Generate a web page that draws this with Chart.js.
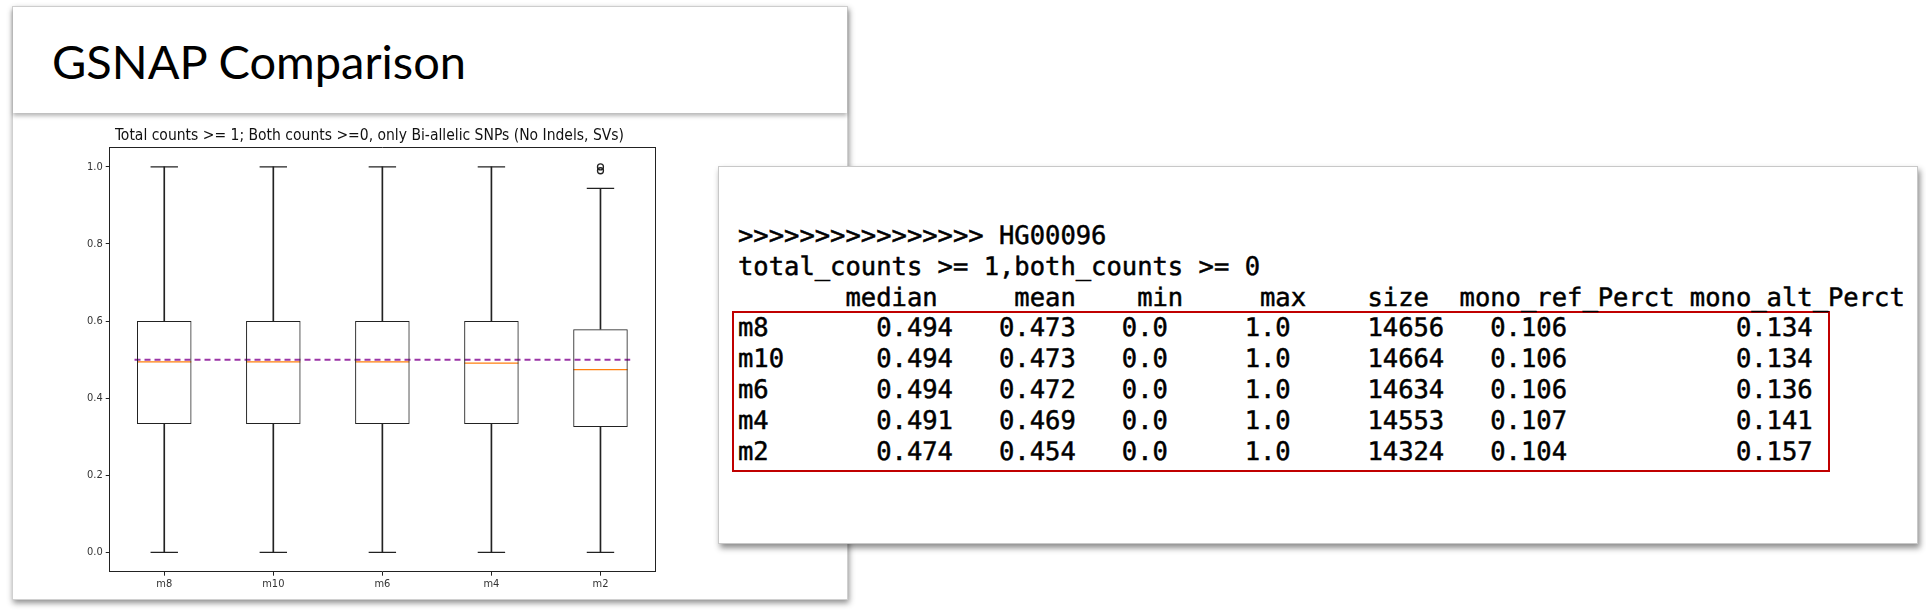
<!DOCTYPE html>
<html>
<head>
<meta charset="utf-8">
<script src="https://cdn.jsdelivr.net/npm/chart.js@4/dist/chart.umd.min.js"></script>
<style>
  body { margin: 0; width: 1926px; height: 612px; background: #fff; overflow: hidden; position: relative; }
  .slide { position: absolute; left: 12px; top: 6px; width: 834px; height: 592px; background: #fff;
           border: 1px solid #d0d0d0; box-shadow: 1px 3px 6px rgba(0,0,0,0.45); }
  .head { position: absolute; left: 0; top: 0; width: 834px; height: 106px; background: #fff;
          box-shadow: 0 3px 4px rgba(0,0,0,0.28); }
  .head h1 { position: absolute; left: 39px; top: 26px; margin: 0; font: 47px Lato, "Open Sans", sans-serif; color: #000; }
  #box { position: absolute; left: 60px; top: 118px; }
  .out { position: absolute; left: 718px; top: 166px; width: 1198px; height: 376px; background: #fff;
         border: 1px solid #c8c8c8; box-shadow: 2px 4px 6px rgba(0,0,0,0.45); }
  pre { position: absolute; left: 738px; top: 221px; margin: 0; font: 25.5px/30.8px "DejaVu Sans Mono", monospace;
        color: #000; -webkit-text-stroke: 0.5px #000; text-rendering: geometricPrecision; overflow: visible; }
  .frame { position: absolute; left: 732px; top: 311px; width: 1094px; height: 157px; border: 2px solid #c00000; }
</style>
</head>
<body>
<div class="slide">
  <div class="head"><h1>GSNAP Comparison</h1></div>
</div>
<canvas id="box" width="630" height="482"></canvas>
<div class="out"></div>
<div class="frame"></div>
<pre id="table"></pre>
<script>
// box plot values
const labels = ['m8', 'm10', 'm6', 'm4', 'm2'];
const whiskerLow = [0, 0, 0, 0, 0];
const q1 = [0.333, 0.333, 0.333, 0.333, 0.325];
const medians = [0.494, 0.494, 0.494, 0.491, 0.474];
const q3 = [0.6, 0.6, 0.6, 0.6, 0.579];
const whiskerHigh = [1.0, 1.0, 1.0, 1.0, 0.944];
const m2Fliers = [1.0, 0.99];
const refLine = 0.5;
const yTicks = [0.0, 0.2, 0.4, 0.6, 0.8, 1.0];

// printed summary table
const sampleName = 'HG00096';
const filterText = 'total_counts >= 1,both_counts >= 0';
const columns = ['median', 'mean', 'min', 'max', 'size', 'mono_ref_Perct', 'mono_alt_Perct'];
const medianCol = ['0.494', '0.494', '0.494', '0.491', '0.474'];
const meanCol = ['0.473', '0.473', '0.472', '0.469', '0.454'];
const minCol = ['0.0', '0.0', '0.0', '0.0', '0.0'];
const maxCol = ['1.0', '1.0', '1.0', '1.0', '1.0'];
const sizeCol = ['14656', '14664', '14634', '14553', '14324'];
const monoRefCol = ['0.106', '0.106', '0.106', '0.107', '0.104'];
const monoAltCol = ['0.134', '0.134', '0.136', '0.141', '0.157'];

function padTo(cells, ends, first) {
    let s = first || '';
    cells.forEach((c, i) => { s += c.padStart(ends[i] - s.length); });
    return s;
}
let lines = ['>'.repeat(16) + ' ' + sampleName, filterText];
lines.push(padTo(columns, [13, 22, 29, 37, 45, 61, 76]));
labels.forEach((name, i) => {
    let cells = [medianCol[i], meanCol[i], minCol[i], maxCol[i], sizeCol[i], monoRefCol[i], monoAltCol[i]];
    lines.push(padTo(cells, [14, 22, 28, 36, 46, 54, 70], name));
});
document.getElementById('table').textContent = lines.join('\n');

const ink = '#222';
const small = { family: "'DejaVu Sans Condensed', 'DejaVu Sans'", size: 11 };

new Chart(document.getElementById('box'), {
    type: 'bar',
    data: {
        labels: labels,
        datasets: [
            {
                data: labels.map((_, i) => [q1[i], q3[i]]),
                backgroundColor: 'rgba(0,0,0,0)', borderColor: ink, borderWidth: 1,
                borderSkipped: false, barPercentage: 0.5, categoryPercentage: 1, grouped: false
            },
            {
                data: labels.map((_, i) => [whiskerLow[i], q1[i]]),
                backgroundColor: ink, borderWidth: 0, barThickness: 1, grouped: false
            },
            {
                data: labels.map((_, i) => [q3[i], whiskerHigh[i]]),
                backgroundColor: ink, borderWidth: 0, barThickness: 1, grouped: false
            },
            {
                type: 'line', data: medians, showLine: false, pointStyle: 'line',
                pointRadius: 27, borderColor: '#ff7f0e', borderWidth: 1.3
            },
            {
                type: 'line', data: whiskerLow, showLine: false, pointStyle: 'line',
                pointRadius: 13.7, borderColor: ink, borderWidth: 1.2
            },
            {
                type: 'line', data: whiskerHigh, showLine: false, pointStyle: 'line',
                pointRadius: 13.7, borderColor: ink, borderWidth: 1.2
            },
            {
                type: 'line', data: m2Fliers.map(v => ({ x: 'm2', y: v })), showLine: false,
                pointStyle: 'circle', pointRadius: 3, borderColor: ink, borderWidth: 1.3,
                backgroundColor: 'rgba(0,0,0,0)'
            },
            {
                type: 'line', xAxisID: 'xr', data: [{ x: 0, y: refLine }, { x: 1, y: refLine }],
                borderColor: '#9b35a6', borderWidth: 2, borderDash: [6, 4], pointRadius: 0
            }
        ]
    },
    options: {
        responsive: false,
        animation: false,
        layout: { padding: { left: 24, right: 35, top: 0, bottom: 4.5 } },
        plugins: {
            legend: { display: false },
            tooltip: { enabled: false },
            title: {
                display: true,
                text: 'Total counts >= 1; Both counts >=0, only Bi-allelic SNPs (No Indels, SVs)',
                color: '#111',
                font: { family: "'DejaVu Sans Condensed', 'DejaVu Sans'", size: 15.5, weight: 'normal' },
                padding: { top: 9, bottom: 2 }
            }
        },
        scales: {
            x: {
                type: 'category', offset: true,
                grid: { display: true, drawOnChartArea: false, offset: false, tickLength: 4, color: ink },
                border: { display: true, color: ink },
                ticks: { font: small, color: '#333', padding: 2 }
            },
            y: {
                min: -0.05, max: 1.05,
                afterBuildTicks: axis => { axis.ticks = yTicks.map(v => ({ value: v })); },
                grid: { display: true, drawOnChartArea: false, tickLength: 4, color: ink },
                border: { display: true, color: ink },
                ticks: { font: small, color: '#333', padding: 3, callback: v => v.toFixed(1) }
            },
            xr: {
                type: 'linear', position: 'top', min: 0, max: 1,
                ticks: { display: false }, grid: { display: false, drawTicks: false },
                border: { display: true, color: ink }
            },
            yr: {
                type: 'linear', position: 'right', min: 0, max: 1,
                ticks: { display: false }, grid: { display: false, drawTicks: false },
                border: { display: true, color: ink }
            }
        }
    }
});
</script>
</body>
</html>
